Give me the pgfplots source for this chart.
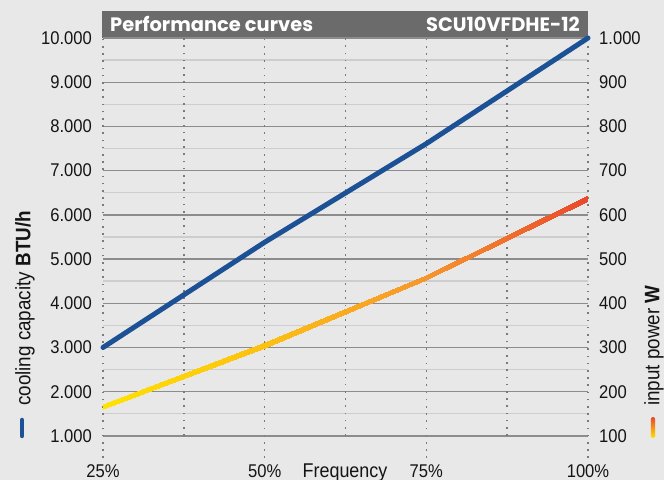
\documentclass[border=0pt]{standalone}
\usepackage{pgfplots}
\pgfplotsset{compat=1.18}
\usepackage{fontspec}
\setmainfont{Liberation Sans}[FakeStretch=0.9]
\newfontfamily\titlefont{Poppins}
\definecolor{bg}{HTML}{E8E8E8}
\definecolor{bar}{HTML}{6B6B6B}
\definecolor{gdark}{HTML}{8C8C8C}
\definecolor{glight}{HTML}{CDCDCD}
\definecolor{gdot}{HTML}{7A7A7A}
\definecolor{cblue}{HTML}{1C5195}
\definecolor{txt}{HTML}{141414}
\definecolor{pyel}{RGB}{255,226,0}
\definecolor{pred}{RGB}{233,72,44}
\begin{document}
\begin{tikzpicture}
\fill[bg] (-103bp,-22bp) rectangle (561bp,458bp);
\fill[bar] (-1bp,420bp) rectangle (485bp,447bp);
\node[anchor=base west, text=white, font=\titlefont\fontsize{19.5}{20}\selectfont\bfseries, inner sep=0] at (7bp,426bp) {Performance curves};
\node[anchor=base east, text=white, font=\titlefont\fontsize{19.5}{20}\selectfont\bfseries, inner sep=0] at (477bp,426bp) {SCU10VFDHE-12};

\begin{axis}[at={(0,0)}, anchor=south west, scale only axis, width=485bp, height=420bp,
  xmin=25, xmax=100, ymin=500, ymax=10000, clip=false,
  axis line style={draw=none}, major tick length=0, minor tick length=0,
  scaled y ticks=false, scaled x ticks=false,
  xtick={25,50,75,100}, ytick={1000,2000,...,10000}, minor ytick={1500,2500,...,9500},
  ymajorgrids, yminorgrids,
  major grid style={gdark, line width=1.4bp},
  minor grid style={glight, line width=1.4bp},
  /pgf/number format/.cd, fixed, precision=0, 1000 sep={.}, assume math mode=true,
  /pgfplots/.cd,
  xticklabel={\pgfmathprintnumber{\tick}\%},
  ticklabel style={font=\fontsize{18.5}{20}\selectfont, text=txt, inner sep=0},
  xticklabel style={anchor=base, yshift=-19bp},
  yticklabel style={anchor=east, xshift=-11bp},
]
\addplot[gdot, line width=1.5bp, dash pattern=on 1.6bp off 5.6bp, forget plot] coordinates {(25,500) (25,10000)};
\addplot[gdot, line width=1.5bp, dash pattern=on 1.6bp off 5.6bp, forget plot] coordinates {(50,500) (50,10000)};
\addplot[gdot, line width=1.5bp, dash pattern=on 1.6bp off 5.6bp, forget plot] coordinates {(75,500) (75,10000)};
\addplot[gdot, line width=1.5bp, dash pattern=on 1.6bp off 5.6bp, forget plot] coordinates {(100,500) (100,10000)};
\addplot[gdot, line width=1.5bp, dash pattern=on 1.6bp off 5.6bp, forget plot] coordinates {(37.5,1000) (37.5,10000)};
\addplot[gdot, line width=1.5bp, dash pattern=on 1.6bp off 5.6bp, forget plot] coordinates {(62.5,1000) (62.5,10000)};
\addplot[gdot, line width=1.5bp, dash pattern=on 1.6bp off 5.6bp, forget plot] coordinates {(87.5,1000) (87.5,10000)};
% cooling capacity
\addplot[cblue, line width=5bp, line join=round, line cap=round] coordinates {(25,3000) (50,5380) (75,7610) (100,10000)};
\node[anchor=base, font=\fontsize{20}{21}\selectfont, text=txt, inner sep=0] at (axis description cs:0.499,0) [yshift=-19bp] {Frequency};
\end{axis}

\begin{axis}[at={(0,0)}, anchor=south west, scale only axis, width=485bp, height=420bp,
  xmin=25, xmax=100, ymin=50, ymax=1000, clip=false,
  hide x axis, axis line style={draw=none}, major tick length=0,
  scaled y ticks=false,
  yticklabel pos=right,
  ytick={100,200,...,1000},
  /pgf/number format/.cd, fixed, precision=0, 1000 sep={.}, assume math mode=true,
  /pgfplots/.cd,
  ticklabel style={font=\fontsize{18.5}{20}\selectfont, text=txt, inner sep=0},
  yticklabel style={anchor=west, xshift=11bp},
]
% input power: the line drawn as thin shaded patches (y +/- half line width)
\addplot[patch, patch type=rectangle, shader=interp, point meta=x, point meta min=25, point meta max=100,
  colormap={pw}{rgb255=(255,226,0) rgb255=(252,192,18) rgb255=(246,150,46) rgb255=(233,72,44)}]
  table[x=x, y expr=\thisrow{y}+6.2*\thisrow{s}] {
x y s
25 166 -1
50 306 -1
50 306 1
25 166 1
50 306 -1
75 458 -1
75 458 1
50 306 1
75 458 -1
100 638 -1
100 638 1
75 458 1
};
\end{axis}

\node[rotate=90, anchor=west, inner sep=0, font=\fontsize{21}{22}\selectfont, text=txt] at (-78bp,52bp) {cooling capacity \textbf{BTU/h}};
\node[rotate=90, anchor=west, inner sep=0, font=\fontsize{21}{22}\selectfont, text=txt] at (551bp,52bp) {input power \textbf{W}};
\draw[cblue, line width=4.5bp, line cap=round] (-81bp,22bp) -- (-81bp,38bp);
\shade[bottom color=pyel, top color=pred, rounded corners=2.2bp] (547.8bp,20bp) rectangle (552.2bp,41bp);
\pgfresetboundingbox
\path (-103bp,-22bp) rectangle (561bp,458bp);
\end{tikzpicture}
\end{document}
